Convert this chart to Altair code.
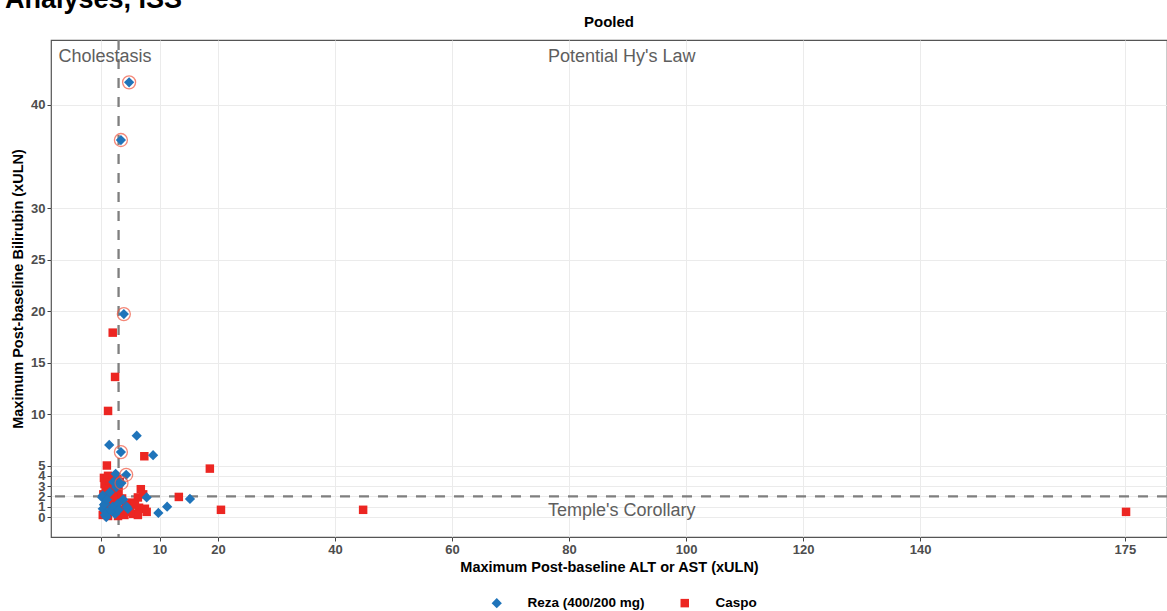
import altair as alt
import pandas as pd

groups = ["Reza (400/200 mg)", "Caspo"]
colors = ["#1f74ba", "#ec2622"]
shapes = ["diamond", "square"]

reza_x = [4.8, 3.4, 3.9, 3.4, 4.3, 3.5, 6.1, 1.4, 8.9, 7.8, 15.2, 11.3, 9.8,
          2.5, 3.2, 2.6, 2.1, 0.3, 0.7, 0.3, 1.2, 2.0, 0.9, 2.9, 3.8, 4.6,
          0.2, 0.7, 4.4, 1.5, 0.5, 1.0, 2.4, 1.8, 3.0]
reza_y = [42.2, 36.6, 19.7, 6.3, 4.1, 3.3, 7.9, 7.0, 6.0, 1.9, 1.75, 1.0, 0.4,
          4.2, 3.4, 2.9, 3.4, 2.1, 1.3, 0.8, 0.5, 1.0, 0.0, 1.3, 1.7, 0.8,
          1.9, 0.2, 1.0, 2.4, 1.2, 1.7, 0.3, 0.6, 0.7]

caspo_x = [1.2, 2.0, 2.4, 1.0, 7.4, 18.6, 13.3, 20.5, 44.8, 175.2,
           0.5, 1.2, 2.0, 2.8, 0.6, 1.5, 2.3, 3.2, 0.8, 1.8, 2.6,
           0.4, 1.3, 2.2, 3.0, 3.6, 0.9, 1.9, 2.8, 4.2,
           0.6, 1.6, 2.5, 3.4, 4.6, 5.5, 6.5, 0.3, 1.2, 2.9, 4.0, 5.2,
           6.8, 6.3, 7.2, 5.8, 7.5, 6.3, 5.0, 3.4, 7.8, 1.0, 2.1]
caspo_y = [10.3, 17.9, 13.6, 5.0, 5.9, 4.7, 1.95, 0.7, 0.7, 0.5,
           3.8, 4.0, 3.9, 3.7, 3.2, 3.3, 3.1, 3.4, 2.7, 2.6, 2.8,
           2.2, 2.0, 2.3, 2.5, 1.8, 1.5, 1.3, 1.6, 1.2,
           0.8, 0.6, 0.9, 0.4, 0.7, 0.3, 0.9, 0.2, 0.1, 0.1, 0.2, 1.4,
           2.7, 1.9, 2.2, 1.2, 0.8, 0.2, 0.5, 0.7, 0.5, 2.4, 1.9]

circled_x = [4.8, 3.4, 3.9, 3.4, 4.3, 3.5]
circled_y = [42.2, 36.6, 19.7, 6.3, 4.1, 3.3]

x_ticks = [0, 10, 20, 40, 60, 80, 100, 120, 140, 175]
y_ticks = [0, 1, 2, 3, 4, 5, 10, 15, 20, 25, 30, 40]

alt_limit = [3]
bili_limit = [2]

ann_text = ["Cholestasis", "Potential Hy's Law", "Temple's Corollary"]
ann_x = [0.68, 89.0, 89.0]
ann_y = [44.66, 44.66, 0.58]

FONT = "Liberation Sans"

pts = pd.DataFrame({
    "x": caspo_x + reza_x,
    "y": caspo_y + reza_y,
    "group": [groups[1]] * len(caspo_x) + [groups[0]] * len(reza_x),
})
circ = pd.DataFrame({"x": circled_x, "y": circled_y})
ann = pd.DataFrame({"x": ann_x, "y": ann_y, "label": ann_text})
one = pd.DataFrame({"a": [0]})

xscale = alt.Scale(domain=[-8.55, 182.2], nice=False, zero=False)
yscale = alt.Scale(domain=[-1.94, 46.31], nice=False, zero=False)

xaxis = alt.Axis(values=x_ticks, title="Maximum Post-baseline ALT or AST (xULN)",
                 labelFlush=False, labelOverlap=False, format="d")
yaxis = alt.Axis(values=y_ticks, title="Maximum Post-baseline Bilirubin (xULN)",
                 labelFlush=False, labelOverlap=False, format="d")

X = alt.X("x:Q", scale=xscale, axis=xaxis)
Y = alt.Y("y:Q", scale=yscale, axis=yaxis)

points = alt.Chart(pts).mark_point(filled=True, opacity=1, strokeWidth=0).encode(
    x=X, y=Y,
    color=alt.Color("group:N", scale=alt.Scale(domain=groups, range=colors),
                    legend=alt.Legend(title=None, orient="none", legendX=439, legendY=556,
                                      direction="horizontal", symbolSize=50,
                                      labelFontSize=13.5, labelFontWeight="bold",
                                      labelFont=FONT, labelColor="black",
                                      labelOffset=24, columnPadding=33, padding=0,
                                      symbolStrokeWidth=0)),
    shape=alt.Shape("group:N", scale=alt.Scale(domain=groups, range=shapes)),
    size=alt.Size("group:N", scale=alt.Scale(domain=groups, range=[105, 72]), legend=None),
)

circles = alt.Chart(circ).mark_point(shape="circle", filled=False, size=169,
                                     stroke="#f0553f", strokeWidth=1.3).encode(x=X, y=Y)

vrule = alt.Chart(pd.DataFrame({"x": alt_limit})).mark_rule(
    color="#7f7f7f", strokeWidth=2.3, strokeDash=[10, 9]).encode(x=X)
hrule = alt.Chart(pd.DataFrame({"y": bili_limit})).mark_rule(
    color="#7f7f7f", strokeWidth=2.3, strokeDash=[10, 9]).encode(y=Y)

texts = alt.Chart(ann).mark_text(font=FONT, fontSize=18, color="#5e5e5e",
                                 align="center", baseline="middle").encode(
    x=X, y=Y, text="label:N")

header = alt.Chart(one).mark_text(font=FONT, fontSize=27, fontWeight="bold", color="black",
                                  align="left", baseline="alphabetic").encode(
    x=alt.value(-46), y=alt.value(-32), text=alt.value("Analyses, ISS"))

panel_title = alt.Chart(one).mark_text(font=FONT, fontSize=15, fontWeight="bold", color="black",
                                       align="center", baseline="alphabetic").encode(
    x=alt.value(558), y=alt.value(-13), text=alt.value("Pooled"))

chart = alt.layer(vrule, hrule, points, circles, texts, header, panel_title).properties(
    width=1116, height=497,
    autosize=alt.AutoSizeParams(type="none"),
    padding={"left": 51, "top": 40, "right": 0, "bottom": 74},
    background="white",
).configure_view(
    stroke="#555555", strokeWidth=1.2
).configure_axis(
    domain=False, grid=True, gridColor="#ebebeb", gridWidth=1,
    tickColor="#444444", tickSize=4, tickWidth=1,
    labelFont=FONT, labelFontSize=13, labelFontWeight="bold", labelColor="#4d4d4d",
    labelPadding=2,
    titleFont=FONT, titleFontSize=14.5, titleFontWeight="bold", titleColor="black",
).configure_axisX(
    titlePadding=4
).configure_axisY(
    titlePadding=5
)

chart.save("out.html", embed_options={"renderer": "svg", "actions": False})
